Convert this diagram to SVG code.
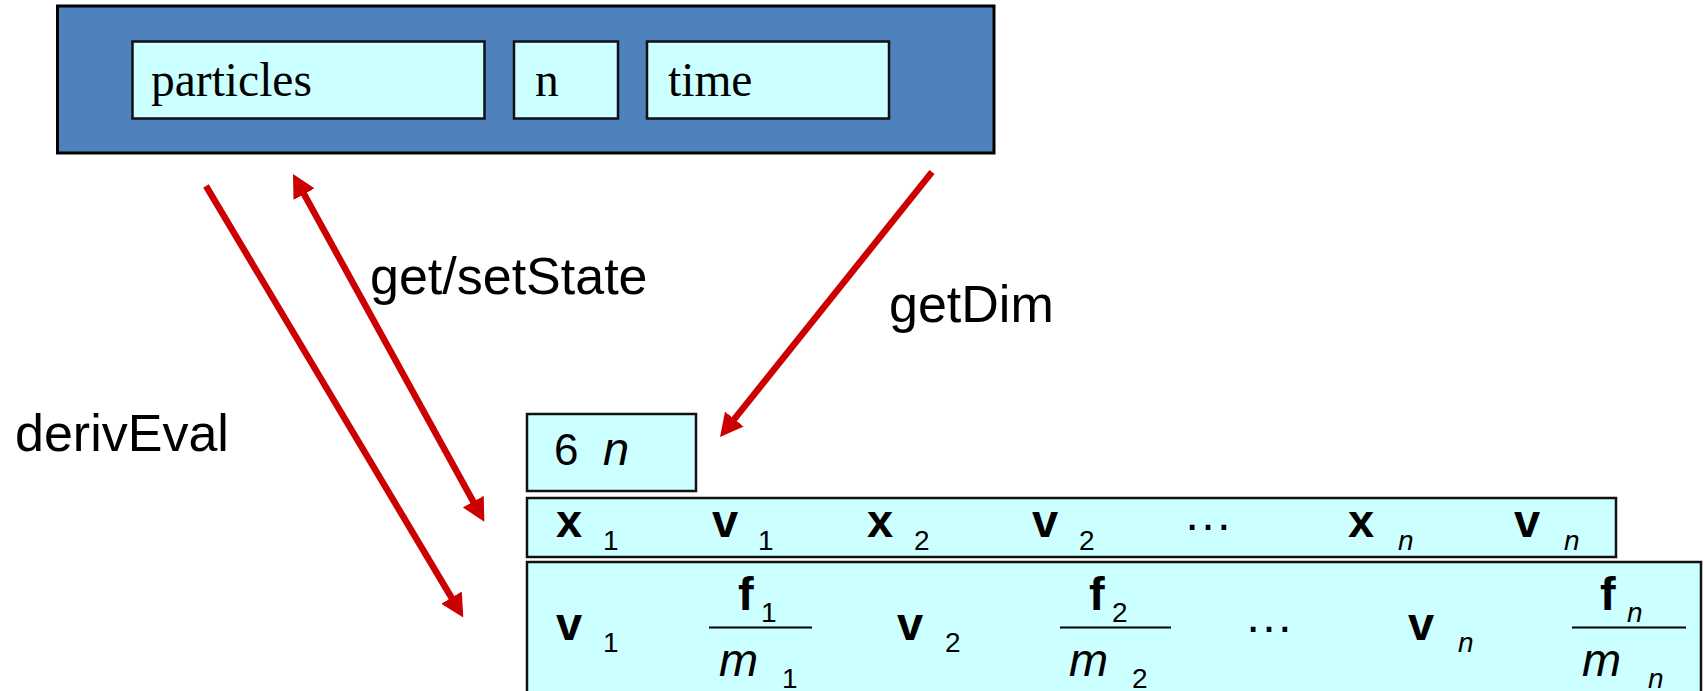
<svg xmlns="http://www.w3.org/2000/svg" width="1704" height="691" viewBox="0 0 1704 691">
<style>
.outer{fill:#4F81BD;stroke:#000;stroke-width:3}
.cell{fill:#CCFFFF;stroke:#111;stroke-width:2.5}
.tnr{font-family:"Liberation Serif","Times New Roman",serif;font-size:47.5px;fill:#000}
.lbl{font-family:"Liberation Sans",Arial,sans-serif;font-size:52px;fill:#000}
.sym{font-family:"Liberation Sans",Arial,sans-serif;font-size:47px;font-weight:bold;fill:#000}
.it{font-family:"Liberation Sans",Arial,sans-serif;font-size:47px;font-style:italic;fill:#000}
.sub{font-family:"Liberation Sans",Arial,sans-serif;font-size:28px;fill:#000}
.subi{font-family:"Liberation Sans",Arial,sans-serif;font-size:28px;font-style:italic;fill:#000}
.num{font-family:"Liberation Sans",Arial,sans-serif;font-size:44px;fill:#000}
.dots{font-family:"Liberation Sans",Arial,sans-serif;font-size:50px;fill:#000}
.arr{stroke:#CC0000;stroke-width:6.5;fill:none}
.frac{stroke:#000;stroke-width:2}
</style>
<defs>
<marker id="ah" viewBox="0 0 23 24" refX="8" refY="12" markerWidth="23" markerHeight="24" markerUnits="userSpaceOnUse" orient="auto-start-reverse">
<path d="M0,0 L23,12 L0,24 Z" fill="#CC0000"/>
</marker>
</defs>
<g id="system">
<rect class="outer" x="57.5" y="6" width="936.5" height="147"/>
<g id="particles"><rect class="cell" x="132.5" y="41.5" width="352" height="77"/><text class="tnr" x="151" y="96">particles</text></g>
<g id="n"><rect class="cell" x="514" y="41.5" width="104" height="77"/><text class="tnr" x="535" y="96">n</text></g>
<g id="time"><rect class="cell" x="647" y="41.5" width="242" height="77"/><text class="tnr" x="668" y="96">time</text></g>
</g>
<g id="dim">
<rect class="cell" x="527" y="414" width="169" height="77"/>
<text class="num" x="554" y="465">6</text><text class="it" x="603" y="465" font-size="44">n</text>
</g>
<g id="state">
<rect class="cell" x="527" y="498" width="1089" height="59"/>
<text class="sym" x="556" y="537">x</text><text class="sub" x="603" y="550">1</text>
<text class="sym" x="712" y="537">v</text><text class="sub" x="758" y="550">1</text>
<text class="sym" x="867" y="537">x</text><text class="sub" x="914" y="550">2</text>
<text class="sym" x="1032" y="537">v</text><text class="sub" x="1079" y="550">2</text>
<text class="dots" x="1183" y="530">…</text>
<text class="sym" x="1348" y="537">x</text><text class="subi" x="1398" y="550">n</text>
<text class="sym" x="1514" y="537">v</text><text class="subi" x="1564" y="550">n</text>
</g>
<g id="deriv">
<rect class="cell" x="527" y="562" width="1174" height="140"/>
<text class="sym" x="556" y="640">v</text><text class="sub" x="603" y="652">1</text>
<text class="sym" x="738" y="610">f</text><text class="sub" x="761" y="622">1</text>
<line class="frac" x1="709" y1="627.5" x2="812" y2="627.5"/>
<text class="it" x="719" y="676">m</text><text class="sub" x="782" y="688">1</text>
<text class="sym" x="897" y="640">v</text><text class="sub" x="945" y="652">2</text>
<text class="sym" x="1089" y="610">f</text><text class="sub" x="1112" y="622">2</text>
<line class="frac" x1="1060" y1="627.5" x2="1171" y2="627.5"/>
<text class="it" x="1069" y="676">m</text><text class="sub" x="1132" y="688">2</text>
<text class="dots" x="1244" y="632">…</text>
<text class="sym" x="1408" y="640">v</text><text class="subi" x="1458" y="652">n</text>
<text class="sym" x="1600" y="610">f</text><text class="subi" x="1627" y="622">n</text>
<line class="frac" x1="1572" y1="627.5" x2="1686" y2="627.5"/>
<text class="it" x="1582" y="676">m</text><text class="subi" x="1648" y="688">n</text>
</g>
<g id="connectors">
<line class="arr" x1="206" y1="186" x2="455.6" y2="604.5" marker-end="url(#ah)"/>
<line class="arr" x1="300.2" y1="187.1" x2="477.1" y2="508.6" marker-start="url(#ah)" marker-end="url(#ah)"/>
<line class="arr" x1="932" y1="172" x2="729.4" y2="425.3" marker-end="url(#ah)"/>
</g>
<g id="labels">
<text class="lbl" x="370" y="294">get/setState</text>
<text class="lbl" x="889" y="322">getDim</text>
<text class="lbl" x="15" y="451">derivEval</text>
</g>
</svg>
